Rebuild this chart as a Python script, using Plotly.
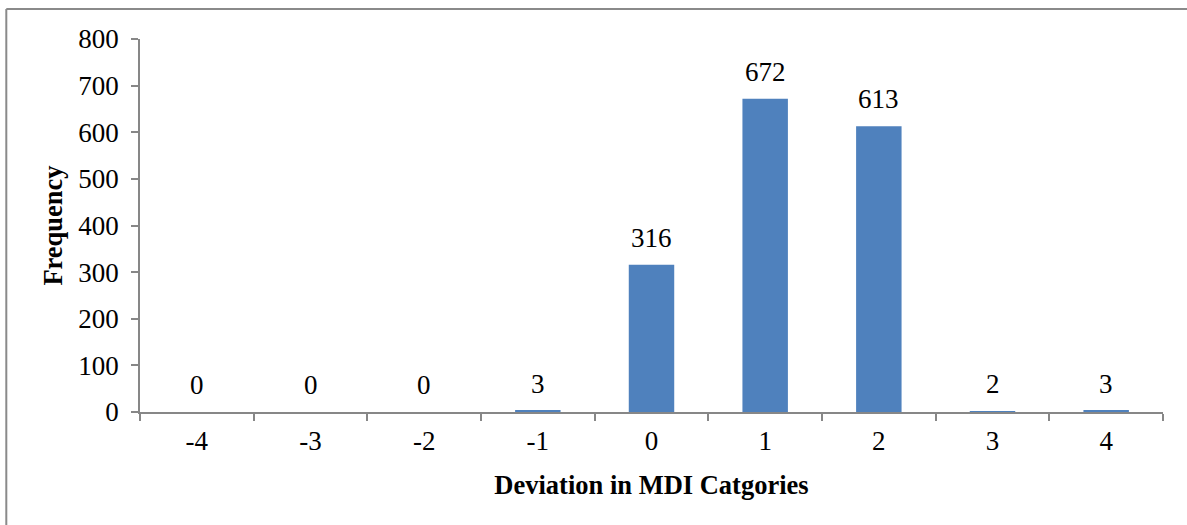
import plotly.graph_objects as go

categories = ["-4", "-3", "-2", "-1", "0", "1", "2", "3", "4"]
frequency = [0, 0, 0, 3, 316, 672, 613, 2, 3]
y_ticks = [0, 100, 200, 300, 400, 500, 600, 700, 800]

serif = "Liberation Serif, Times New Roman, serif"
axis_grey = "#878787"

fig = go.Figure(
    go.Bar(
        x=categories,
        y=frequency,
        marker=dict(color="#4F81BD", line=dict(width=0)),
        hoverinfo="x+y",
    )
)

# value labels above each bar, placed from the same values as the bars
# (x given as the category's position index on the category axis)
for idx, val in enumerate(frequency):
    fig.add_annotation(
        x=idx, y=val, text=str(val), showarrow=False,
        yanchor="bottom", yshift=10,
        font=dict(family=serif, size=27, color="#000000"),
    )

fig.update_layout(
    width=1187,
    height=525,
    margin=dict(l=140, r=24, t=39, b=113),
    paper_bgcolor="white",
    plot_bgcolor="white",
    bargap=0.6,
    showlegend=False,
    font=dict(family=serif, size=27, color="#000000"),
    xaxis=dict(
        type="category",
        categoryorder="array",
        categoryarray=categories,
        range=[-0.5, len(categories) - 0.5],
        tickson="boundaries",
        ticks="outside",
        ticklen=7,
        tickcolor=axis_grey,
        tickwidth=1.5,
        showline=True,
        linecolor=axis_grey,
        linewidth=1.5,
        showgrid=False,
        zeroline=False,
        ticklabelstandoff=4,
        tickfont=dict(family=serif, size=27),
        title=dict(
            text="<b>Deviation in MDI Catgories</b>",
            font=dict(family=serif, size=26.5),
            standoff=20,
        ),
    ),
    yaxis=dict(
        range=[0, 800],
        tickvals=y_ticks,
        ticks="outside",
        ticklen=7,
        tickcolor=axis_grey,
        tickwidth=1.5,
        showline=True,
        linecolor=axis_grey,
        linewidth=1.5,
        showgrid=False,
        zeroline=False,
        ticklabelstandoff=7,
        tickfont=dict(family=serif, size=27),
        title=dict(
            text="<b>Frequency</b>",
            font=dict(family=serif, size=26.5),
            standoff=8,
        ),
    ),
    shapes=[
        # outer chart frame (left and top edges)
        dict(type="line", xref="paper", yref="paper",
             x0=-0.1307, x1=1.03, y0=1.0806, y1=1.0806,
             line=dict(color="#8a8a8a", width=2)),
        dict(type="line", xref="paper", yref="paper",
             x0=-0.1307, x1=-0.1307, y0=-0.35, y1=1.0806,
             line=dict(color="#8a8a8a", width=2)),
    ],
)

fig.write_html("out.html")
